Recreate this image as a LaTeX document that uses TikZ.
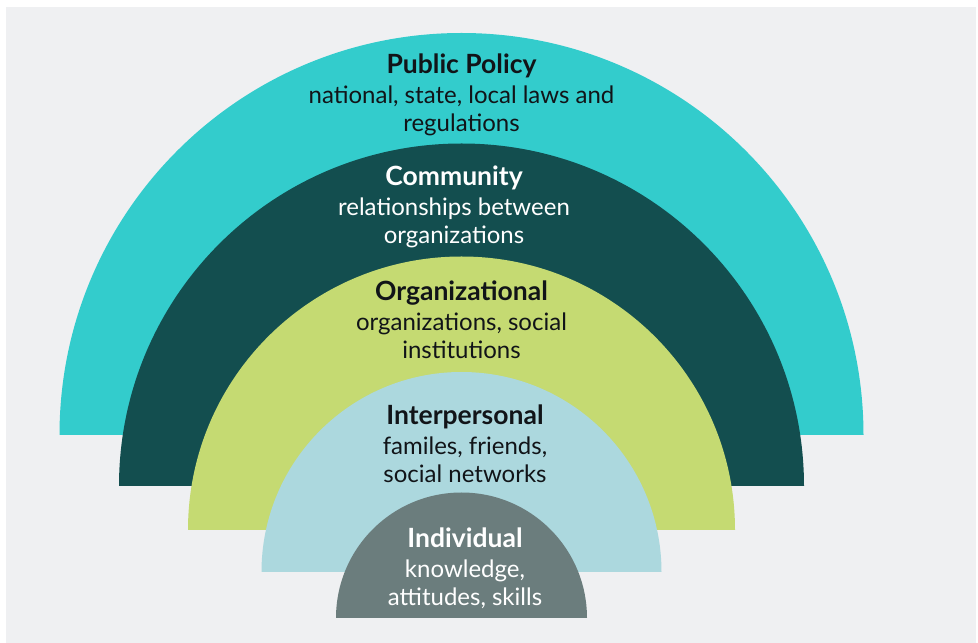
\documentclass[tikz,border=0pt]{standalone}
\usepackage{fontspec}
\setmainfont{Lato}
\usetikzlibrary{positioning}
\definecolor{canvas}{HTML}{EFF0F2}
\definecolor{policy}{HTML}{33CCCC}
\definecolor{community}{HTML}{134E4F}
\definecolor{organiz}{HTML}{C5DA72}
\definecolor{interp}{HTML}{ACD8DE}
\definecolor{individ}{HTML}{6B7D7D}
\definecolor{ink}{HTML}{111418}
\newcommand{\layertitle}[1]{{\fontsize{26.5}{30}\selectfont\bfseries #1}\\[2pt]}
\tikzset{
  band/.style={fill=#1,draw=none},
  lab/.style={align=center,font=\fontsize{24}{28}\selectfont,inner sep=0pt,text=#1},
  lab/.default=ink,
}

\begin{document}
\begin{tikzpicture}[x=1pt,y=1pt]
    \useasboundingbox (0,0) rectangle (978,643);
    % Canvas
    \fill[white] (0,0) rectangle (978,643);
    \fill[canvas] (6,0) rectangle (976,636);
    % Half discs, outer to inner
    \foreach \r/\y/\col [count=\k from 0] in {402/208/policy,342.5/157/community,
        273.5/113/organiz,200/71/interp,125.5/25/individ}{
      \fill[band=\col] (461.5-\r,\y) arc[start angle=180,end angle=0,radius=\r] -- cycle;
    }
    % Labels
    \node[lab] (policyLab) at (461.5,548)
      {\layertitle{Public Policy}national, state, local laws and\\regulations};
    \node[lab=white] (communityLab) at (454,436)
      {\layertitle{Community}relationships between\\organizations};
    \node[lab] (organizLab) at (461.5,323)
      {\layertitle{Organizational}organizations, social\\institutions};
    \node[lab] (interpLab) at (465,199)
      {\layertitle{Interpersonal}familes, friends,\\social networks};
    \node[lab=white] (individLab) at (465,75)
      {\layertitle{Individual}knowledge,\\attitudes, skills};
  \end{tikzpicture}
\end{document}
